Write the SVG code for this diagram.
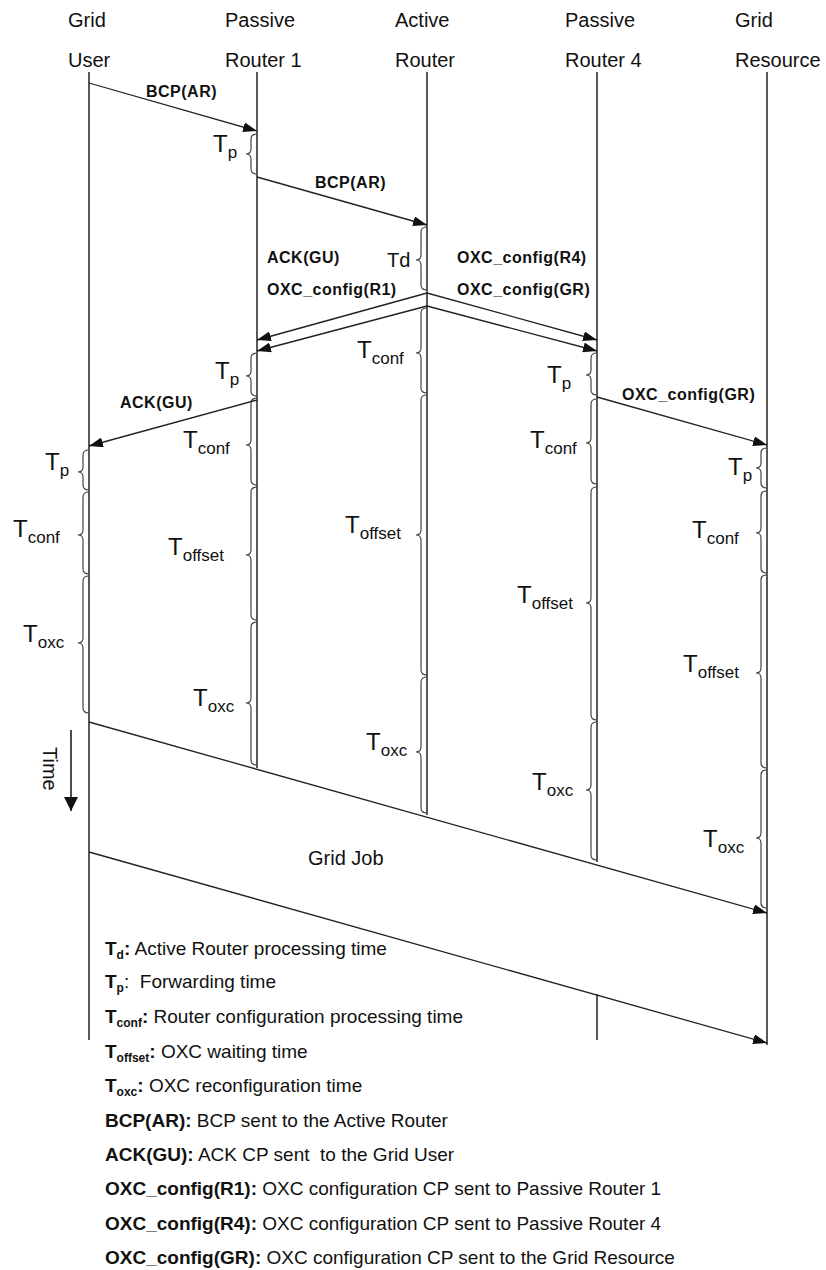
<svg xmlns="http://www.w3.org/2000/svg" width="826" height="1270" viewBox="0 0 826 1270">
<defs>
<style>
text{font-family:"Liberation Sans",Arial,sans-serif;fill:#111}
.hd{font-size:20px}
.life{stroke:#222;stroke-width:1.5;fill:none}
.br{stroke:#444;stroke-width:1.2;fill:none}
.tl{font-size:24px}
.sub{font-size:17px}
.msg{stroke:#222;stroke-width:1.3;fill:none;marker-end:url(#ah)}
.ml{font-size:16px;font-weight:bold;letter-spacing:0.5px}
.lg{font-size:19px}
.b{font-weight:bold}
.ls{font-size:12px;font-weight:bold}
</style>
<marker id="ah" markerWidth="14" markerHeight="10" refX="14" refY="5" orient="auto" markerUnits="userSpaceOnUse">
<path d="M0,0 L14,5 L0,10 z" fill="#111"/>
</marker>
<marker id="ahT" markerWidth="14" markerHeight="14" refX="14" refY="7" orient="auto" markerUnits="userSpaceOnUse">
<path d="M0,0 L14,7 L0,14 z" fill="#111"/>
</marker>
</defs>
<rect width="826" height="1270" fill="#fff"/>

<g id="node-grid-user">
<text class="hd" x="68" y="27">Grid</text>
<text class="hd" x="68" y="67">User</text>
<line class="life" x1="89" y1="72" x2="89" y2="1040"/>
<path class="br" d="M89,450 Q83,450 83,455 L83,467 Q83,472 78,472 Q83,472 83,477 L83,485 Q83,490 89,490"/>
<path class="br" d="M89,492 Q83,492 83,497 L83,530 Q83,535 78,535 Q83,535 83,540 L83,569 Q83,574 89,574"/>
<path class="br" d="M89,576 Q83,576 83,581 L83,638 Q83,643 78,643 Q83,643 83,648 L83,708 Q83,713 89,713"/>
<text class="tl" x="45" y="470">T<tspan class="sub" dy="6">p</tspan></text>
<text class="tl" x="13" y="537">T<tspan class="sub" dy="6">conf</tspan></text>
<text class="tl" x="23" y="642">T<tspan class="sub" dy="6">oxc</tspan></text>
</g>

<g id="node-passive-router-1">
<text class="hd" x="225" y="27">Passive</text>
<text class="hd" x="225" y="67">Router 1</text>
<line class="life" x1="257" y1="72" x2="257" y2="768"/>
<path class="br" d="M257,134 Q251,134 251,139 L251,149 Q251,154 246,154 Q251,154 251,159 L251,169 Q251,174 257,174"/>
<path class="br" d="M257,353 Q251,353 251,358 L251,371 Q251,376 246,376 Q251,376 251,381 L251,391 Q251,396 257,396"/>
<path class="br" d="M257,398 Q251,398 251,403 L251,440 Q251,445 246,445 Q251,445 251,450 L251,480 Q251,485 257,485"/>
<path class="br" d="M257,487 Q251,487 251,492 L251,550 Q251,555 246,555 Q251,555 251,560 L251,615 Q251,620 257,620"/>
<path class="br" d="M257,622 Q251,622 251,627 L251,698 Q251,703 246,703 Q251,703 251,708 L251,760 Q251,765 257,765"/>
<text class="tl" x="213" y="152">T<tspan class="sub" dy="6">p</tspan></text>
<text class="tl" x="215" y="379">T<tspan class="sub" dy="6">p</tspan></text>
<text class="tl" x="183" y="448">T<tspan class="sub" dy="6">conf</tspan></text>
<text class="tl" x="168" y="555">T<tspan class="sub" dy="6">offset</tspan></text>
<text class="tl" x="193" y="706">T<tspan class="sub" dy="6">oxc</tspan></text>
</g>

<g id="node-active-router">
<text class="hd" x="395" y="27">Active</text>
<text class="hd" x="395" y="67">Router</text>
<line class="life" x1="427" y1="72" x2="427" y2="815"/>
<path class="br" d="M427,227 Q421,227 421,232 L421,255 Q421,260 416,260 Q421,260 421,265 L421,285 Q421,290 427,290"/>
<path class="br" d="M427,308 Q421,308 421,313 L421,348 Q421,353 416,353 Q421,353 421,358 L421,388 Q421,393 427,393"/>
<path class="br" d="M427,395 Q421,395 421,400 L421,530 Q421,535 416,535 Q421,535 421,540 L421,670 Q421,675 427,675"/>
<path class="br" d="M427,677 Q421,677 421,682 L421,747 Q421,752 416,752 Q421,752 421,757 L421,808 Q421,813 427,813"/>
<text class="hd" x="387" y="267">Td</text>
<text class="tl" x="357" y="358">T<tspan class="sub" dy="6">conf</tspan></text>
<text class="tl" x="345" y="533">T<tspan class="sub" dy="6">offset</tspan></text>
<text class="tl" x="366" y="750">T<tspan class="sub" dy="6">oxc</tspan></text>
</g>

<g id="node-passive-router-4">
<text class="hd" x="565" y="27">Passive</text>
<text class="hd" x="565" y="67">Router 4</text>
<line class="life" x1="597" y1="72" x2="597" y2="862"/>
<line class="life" x1="597" y1="994" x2="597" y2="1040"/>
<path class="br" d="M597,353 Q591,353 591,358 L591,370 Q591,375 586,375 Q591,375 591,380 L591,390 Q591,395 597,395"/>
<path class="br" d="M597,399 Q591,399 591,404 L591,438 Q591,443 586,443 Q591,443 591,448 L591,479 Q591,484 597,484"/>
<path class="br" d="M597,487 Q591,487 591,492 L591,598 Q591,603 586,603 Q591,603 591,608 L591,715 Q591,720 597,720"/>
<path class="br" d="M597,722 Q591,722 591,727 L591,785 Q591,790 586,790 Q591,790 591,795 L591,855 Q591,860 597,860"/>
<text class="tl" x="547" y="383">T<tspan class="sub" dy="6">p</tspan></text>
<text class="tl" x="530" y="448">T<tspan class="sub" dy="6">conf</tspan></text>
<text class="tl" x="517" y="603">T<tspan class="sub" dy="6">offset</tspan></text>
<text class="tl" x="532" y="790">T<tspan class="sub" dy="6">oxc</tspan></text>
</g>

<g id="node-grid-resource">
<text class="hd" x="735" y="27">Grid</text>
<text class="hd" x="735" y="67">Resource</text>
<line class="life" x1="767" y1="72" x2="767" y2="1045"/>
<path class="br" d="M767,448 Q761,448 761,453 L761,463 Q761,468 756,468 Q761,468 761,473 L761,483 Q761,488 767,488"/>
<path class="br" d="M767,491 Q761,491 761,496 L761,528 Q761,533 756,533 Q761,533 761,538 L761,568 Q761,573 767,573"/>
<path class="br" d="M767,575 Q761,575 761,580 L761,668 Q761,673 756,673 Q761,673 761,678 L761,763 Q761,768 767,768"/>
<path class="br" d="M767,770 Q761,770 761,775 L761,833 Q761,838 756,838 Q761,838 761,843 L761,903 Q761,908 767,908"/>
<text class="tl" x="728" y="475">T<tspan class="sub" dy="6">p</tspan></text>
<text class="tl" x="692" y="538">T<tspan class="sub" dy="6">conf</tspan></text>
<text class="tl" x="683" y="672">T<tspan class="sub" dy="6">offset</tspan></text>
<text class="tl" x="703" y="847">T<tspan class="sub" dy="6">oxc</tspan></text>
</g>

<g id="connectors">
<line class="msg" x1="89" y1="83" x2="257" y2="131"/>
<line class="msg" x1="257" y1="177" x2="427" y2="225"/>
<line class="msg" x1="427" y1="293" x2="257" y2="340"/>
<line class="msg" x1="427" y1="306" x2="257" y2="351"/>
<line class="msg" x1="427" y1="293" x2="597" y2="340"/>
<line class="msg" x1="427" y1="306" x2="597" y2="351"/>
<line class="msg" x1="257" y1="400" x2="89" y2="446"/>
<line class="msg" x1="597" y1="397" x2="767" y2="445"/>
<line class="msg" x1="89" y1="722" x2="767" y2="913"/>
<line class="msg" x1="89" y1="852" x2="767" y2="1043"/>
<text class="ml" x="146" y="97">BCP(AR)</text>
<text class="ml" x="315" y="188">BCP(AR)</text>
<text class="ml" x="267" y="263">ACK(GU)</text>
<text class="ml" x="267" y="295">OXC_config(R1)</text>
<text class="ml" x="457" y="263">OXC_config(R4)</text>
<text class="ml" x="457" y="295">OXC_config(GR)</text>
<text class="ml" x="120" y="408">ACK(GU)</text>
<text class="ml" x="622" y="400">OXC_config(GR)</text>
</g>

<g id="grid-job">
<text class="hd" x="308" y="865">Grid Job</text>
</g>

<g id="time-axis">
<line x1="71" y1="730" x2="71" y2="811" stroke="#111" stroke-width="1.5" marker-end="url(#ahT)"/>
<text class="hd" transform="translate(43,747) rotate(90)">Time</text>
</g>

<g id="legend" class="lg">
<text class="lg" x="105" y="955"><tspan class="b">T</tspan><tspan class="ls" dy="4">d</tspan><tspan class="b" dy="-4">:</tspan> Active Router processing time</text>
<text class="lg" x="105" y="988"><tspan class="b">T</tspan><tspan class="ls" dy="4">p</tspan><tspan dy="-4">:&#160; Forwarding time</tspan></text>
<text class="lg" x="105" y="1023"><tspan class="b">T</tspan><tspan class="ls" dy="4">conf</tspan><tspan class="b" dy="-4">:</tspan> Router configuration processing time</text>
<text class="lg" x="105" y="1058"><tspan class="b">T</tspan><tspan class="ls" dy="4">offset</tspan><tspan class="b" dy="-4">:</tspan> OXC waiting time</text>
<text class="lg" x="105" y="1092"><tspan class="b">T</tspan><tspan class="ls" dy="4">oxc</tspan><tspan class="b" dy="-4">:</tspan> OXC reconfiguration time</text>
<text class="lg" x="105" y="1127"><tspan class="b">BCP(AR):</tspan> BCP sent to the Active Router</text>
<text class="lg" x="105" y="1161"><tspan class="b">ACK(GU):</tspan> ACK CP sent&#160; to the Grid User</text>
<text class="lg" x="105" y="1195"><tspan class="b">OXC_config(R1):</tspan> OXC configuration CP sent to Passive Router 1</text>
<text class="lg" x="105" y="1230"><tspan class="b">OXC_config(R4):</tspan> OXC configuration CP sent to Passive Router 4</text>
<text class="lg" x="105" y="1264"><tspan class="b">OXC_config(GR):</tspan> OXC configuration CP sent to the Grid Resource</text>
</g>
</svg>
